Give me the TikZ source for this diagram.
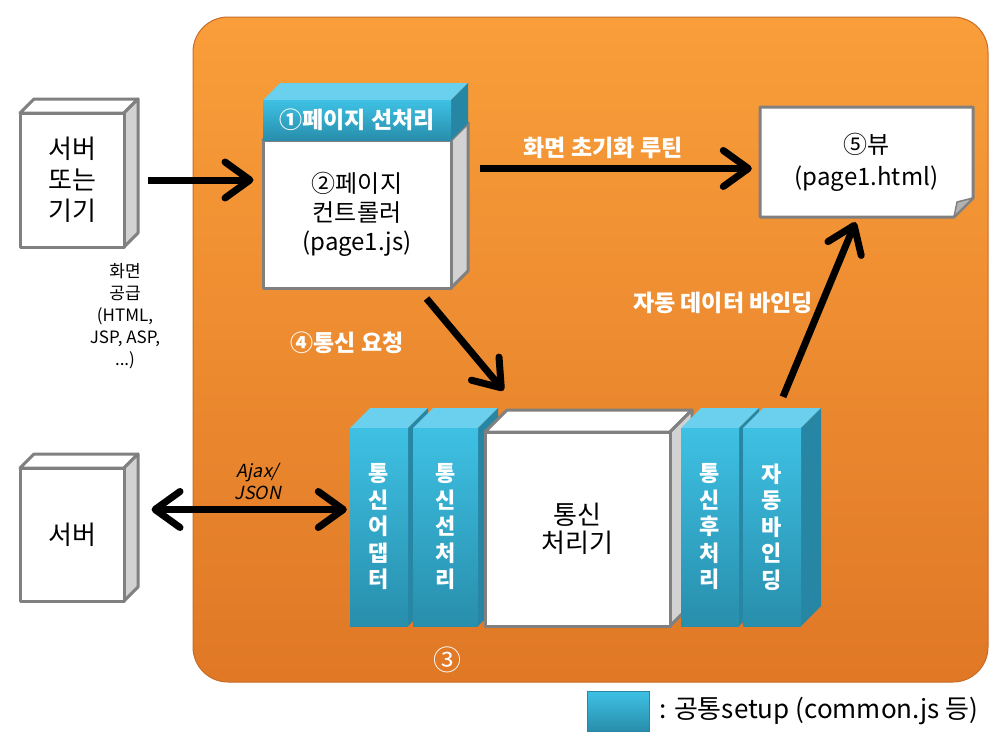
\documentclass[tikz,border=0pt]{standalone}
\usepackage{fontspec}
\setmainfont{Noto Sans CJK KR}
\newfontfamily\slfont[FakeSlant=0.2]{Noto Sans CJK KR}
\usetikzlibrary{arrows.meta,calc}
\definecolor{org1}{RGB}{249,158,58}
\definecolor{org2}{RGB}{224,120,38}
\definecolor{orgb}{RGB}{200,108,40}
\definecolor{bl1}{RGB}{62,193,228}
\definecolor{bl2}{RGB}{40,142,172}
\definecolor{bltop}{RGB}{106,208,237}
\definecolor{blside}{RGB}{38,134,164}
\definecolor{gbord}{RGB}{128,128,128}
\definecolor{gside}{RGB}{210,210,210}
\newcommand\cuboid[8]{%
  \path[#7top] (#2,#3) -- (#2+#6,#3-#6) -- (#4+#6,#3-#6) -- (#4,#3) -- cycle;
  \path[#7side] (#4,#3) -- (#4+#6,#3-#6) -- (#4+#6,#5-#6) -- (#4,#5) -- cycle;
  \node[#7front, minimum width={(#4-#2)*1pt}, minimum height={(#5-#3)*1pt}] (#1) at ({(#2+#4)/2},{(#3+#5)/2}) {#8};
}
\begin{document}
\begin{tikzpicture}[x=1pt,y=-1pt,
  wfront/.style={draw=gbord, line width=3pt, fill=white, inner sep=0pt, align=center, line join=round},
  wtop/.style={draw=gbord, line width=3pt, fill=white, line join=round},
  wside/.style={draw=gbord, line width=3pt, fill=gside, line join=round},
  stop/.style={wtop}, sside/.style={wside},
  sfront/.style={wfront, font=\fontsize{26}{31}\selectfont},
  ptop/.style={wtop}, pside/.style={wside},
  pfront/.style={wfront, font=\fontsize{24}{29}\selectfont},
  ctop/.style={wtop}, cside/.style={wside},
  cfront/.style={wfront, font=\fontsize{26}{28}\selectfont},
  btop/.style={fill=bltop},
  bside/.style={fill=blside},
  bfront/.style={top color=bl1, bottom color=bl2, inner sep=0pt, align=center, text=white, font=\bfseries\fontsize{22}{26.5}\selectfont},
  htop/.style={btop}, hside/.style={bside},
  hfront/.style={bfront, font=\bfseries\fontsize{23}{26}\selectfont},
  arr/.style={line width=7pt, -{Straight Barb[length=25pt,width=36pt,round]}},
  darr/.style={line width=7pt, {Straight Barb[length=25pt,width=36pt,round]}-{Straight Barb[length=25pt,width=36pt,round]}},
  wlabel/.style={text=white, font=\bfseries\fontsize{23}{26}\selectfont},
  blabel/.style={align=center, font=\fontsize{17}{22}\selectfont}
]
\useasboundingbox (0,0) rectangle (1000,750);
% orange background
\path[top color=org1, bottom color=org2, draw=orgb, line width=1pt, rounded corners=35pt] (193,17) rectangle (988,682);

% left boxes
\cuboid{srv1}{20}{113}{124}{247}{14}{s}{서버\\또는\\기기}
\cuboid{srv2}{20}{468}{124}{601}{14}{s}{서버}
\node[blabel] (supply) at (125,316) {화면\\공급\\(HTML,\\JSP, ASP,\\...)};

% page controller
\cuboid{pc}{263}{140}{451}{288}{17}{p}{②페이지\\컨트롤러\\(page1.js)}
\cuboid{pre}{263}{100}{451}{140}{17}{h}{①페이지 선처리}

% view
\path[wtop] (760,107) -- (973,107) -- (973,198) -- (954,217) -- (760,217) -- cycle;
\path[fill=gray!60, draw=gbord, line width=1.5pt, line join=round] (973,198) -- (957,202) -- (954,217) -- cycle;
\node[inner sep=0pt, minimum width=213pt, minimum height=110pt, align=center, font=\fontsize{24}{32}\selectfont] (view) at (866.5,162) {⑤뷰\\(page1.html)};

% bottom columns
\cuboid{adapt}{350}{428}{408}{626}{20}{b}{통\\신\\어\\댑\\터}
\cuboid{cpre}{413}{428}{478}{626}{20}{b}{통\\신\\선\\처\\리}
\cuboid{proc}{485}{432}{670}{626}{22}{c}{통신\\처리기}
\cuboid{cpost}{681}{428}{739}{626}{20}{b}{통\\신\\후\\처\\리}
\cuboid{bind}{743}{428}{801}{626}{20}{b}{자\\동\\바\\인\\딩}
\node[text=white, font=\fontsize{28}{30}\selectfont] (three) at (447,660) {③};

% arrows
\draw[arr, shorten <=22pt, shorten >=8pt] (srv1.east) -- (pc.west |- srv1.east);
\coordinate (initA) at ($(pc.north east)+(27,30)$);
\draw[arr, shorten >=8pt] (initA) -- (view.west |- initA);
\node[wlabel] (initL) at (603,148) {화면 초기화 루틴};
\draw[arr] ($(pc.south east)+(-26,9)$) -- ($(proc.north west)+(20,-40)$);
\node[wlabel] (reqL) at (347,343) {④통신 요청};
\draw[arr] ($(bind.north)+(11,-31)$) -- ($(view.south)+(-11,5)$);
\node[wlabel] (bindL) at (723,303) {자동 데이터 바인딩};
\coordinate (ajaxA) at ($(srv2.east)+(26,-25)$);
\draw[darr, shorten >=3pt] (ajaxA) -- (adapt.west |- ajaxA);
\node[align=center, font=\slfont\fontsize{18}{22}\selectfont] (ajaxL) at (258,481) {Ajax/\\JSON};

% legend
\node[top color=bl1, bottom color=bl2, draw=blside, line width=1pt, minimum width=62pt, minimum height=40pt, inner sep=0pt] (leg) at (618,711) {};
\node[anchor=west, font=\fontsize{26}{30}\selectfont] (legT) at ($(leg.east)+(6,0)$) {: 공통setup (common.js 등)};
\end{tikzpicture}
\end{document}
